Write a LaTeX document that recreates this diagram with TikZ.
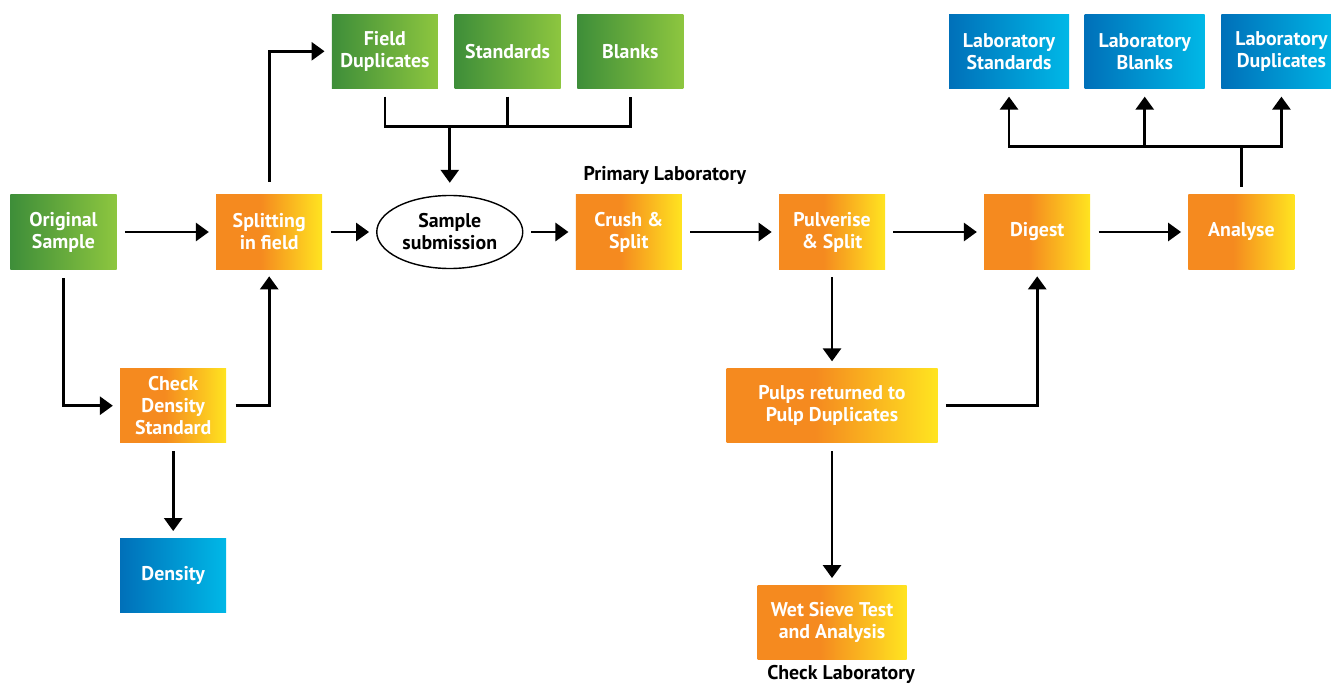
\documentclass[tikz,border=0pt]{standalone}
\usepackage{fontspec}
\setmainfont{PT Sans}
\usepackage{tikz}
\usetikzlibrary{arrows.meta, shapes.geometric, positioning}

\definecolor{orA}{HTML}{F58A1F}
\definecolor{orB}{HTML}{FFE420}
\definecolor{grA}{HTML}{3E8E39}
\definecolor{grB}{HTML}{8DC63F}
\definecolor{blA}{HTML}{0070B9}
\definecolor{blB}{HTML}{00B8E7}
\pgfdeclarehorizontalshading{orangeshade}{100bp}{color(0bp)=(orA); color(25bp)=(orA); color(46bp)=(orA); color(75bp)=(orB); color(100bp)=(orB)}
\pgfdeclarehorizontalshading{greenshade}{100bp}{color(0bp)=(grA); color(25bp)=(grA); color(75bp)=(grB); color(100bp)=(grB)}
\pgfdeclarehorizontalshading{blueshade}{100bp}{color(0bp)=(blA); color(25bp)=(blA); color(75bp)=(blB); color(100bp)=(blB)}

\begin{document}
\begin{tikzpicture}[box/.style={rectangle, shade, minimum width=2.12cm, minimum height=1.48cm, inner sep=1pt, align=center, text=white, font=\bfseries\fontsize{11.3}{12.5}\selectfont},
    orangebox/.style={box, shading=orangeshade},
    greenbox/.style={box, shading=greenshade},
    bluebox/.style={box, shading=blueshade, minimum width=2.4cm},
    label/.style={inner sep=0pt, font=\bfseries\fontsize{11.3}{12.5}\selectfont},
    arr/.style={line width=1.6pt, -{Triangle[length=0.26cm, width=0.36cm]}, shorten <=0.16cm, shorten >=0.14cm},
    line/.style={line width=1.6pt}]
            \useasboundingbox (-1.27,4.64) rectangle (25.35,-9.10);
            % main row
            \node[greenbox] (orig) at (0,0) {Original\\Sample};
            \node[orangebox] (split) [right = 1.98cm of orig] {Splitting\\in field};
            \node[ellipse, draw, line width=0.8pt, minimum width=2.92cm, minimum height=1.46cm, inner sep=0pt, align=center, font=\bfseries\fontsize{11.3}{12.5}\selectfont] (subm) [right = 1.07cm of split] {Sample\\submission};
            \node[orangebox] (crush) [right = 1.04cm of subm] {Crush \&\\Split};
            \node[orangebox] (pulv) [right = 1.93cm of crush] {Pulverise\\\& Split};
            \node[orangebox] (digest) [right = 1.97cm of pulv] {Digest};
            \node[orangebox] (analyse) [right = 1.95cm of digest] {Analyse};
            \node[label] (primlab) [above = 0.2cm of crush, xshift=0.72cm] {Primary Laboratory};
            
            % field checks
            \node[orangebox] (check) [below right = 1.98cm and 0.06cm of orig] {Check\\Density\\Standard};
            \node[bluebox, minimum width=2.12cm] (density) [below = 1.9cm of check] {Density};
            \node[greenbox] (fdup) [above right = 2.12cm and 0.18cm of split] {Field\\Duplicates};
            \node[greenbox] (stds) [right = 0.32cm of fdup] {Standards};
            \node[greenbox] (blanks) [right = 0.32cm of stds] {Blanks};
            
            % laboratory checks
            \node[orangebox, minimum width=4.22cm] (pulps) [below = 1.98cm of pulv] {Pulps returned to\\Pulp Duplicates};
            \node[orangebox, minimum width=2.98cm] (wet) [below = 2.84cm of pulps] {Wet Sieve Test\\and Analysis};
            \node[label] (checklab) [below = 0.1cm of wet, xshift=0.18cm] {Check Laboratory};
            \node[bluebox] (labdup) [above = 2.12cm of analyse, xshift=0.8cm] {Laboratory\\Duplicates};
            \node[bluebox] (labblk) [left = 0.32cm of labdup] {Laboratory\\Blanks};
            \node[bluebox] (labstd) [left = 0.3cm of labblk] {Laboratory\\Standards};
            \coordinate (fbar) at ([yshift=-0.76cm]fdup.south);
            \coordinate (lbar) at ([yshift=0.96cm]analyse.north);
            
            \path[arr]  (orig) edge (split);
            \path[arr]  (split) edge (subm);
            \path[arr]  (subm) edge (crush);
            \path[arr]  (crush) edge (pulv);
            \path[arr]  (pulv) edge (digest);
            \path[arr]  (digest) edge (analyse);
            \path[arr]  (check) edge (density);
            \path[arr]  (pulv) edge (pulps);
            \path[arr]  (pulps) edge (wet);
            \draw[arr, shorten <=0.26cm] (split.north) |- (fdup.west);
            \draw[arr, shorten <=0.18cm] (orig.south) |- (check.west);
            \draw[arr, shorten <=0.18cm] (check.east) -| (split.south);
            \draw[arr] (pulps.east) -| (digest.south);
            
            \draw[line] ([yshift=-0.16cm]fdup.south) -- (fdup.south |- fbar) -- (blanks.south |- fbar) -- ([yshift=-0.16cm]blanks.south);
            \draw[line] ([yshift=-0.16cm]stds.south) -- (stds.south |- fbar);
            \draw[arr, shorten <=0pt, shorten >=0.24cm] (subm |- fbar) -- (subm.north);
            
            \draw[line] ([yshift=0.16cm]analyse.north) -- (analyse.north |- lbar);
            \draw[arr, shorten <=0pt, shorten >=0.16cm] (labblk |- lbar) -| (labstd.south);
            \draw[arr, shorten <=0pt, shorten >=0.16cm] (labblk |- lbar) -| (labdup.south);
            \draw[arr, shorten <=0pt, shorten >=0.16cm] (labblk |- lbar) -- (labblk.south);
        \end{tikzpicture}
\end{document}
